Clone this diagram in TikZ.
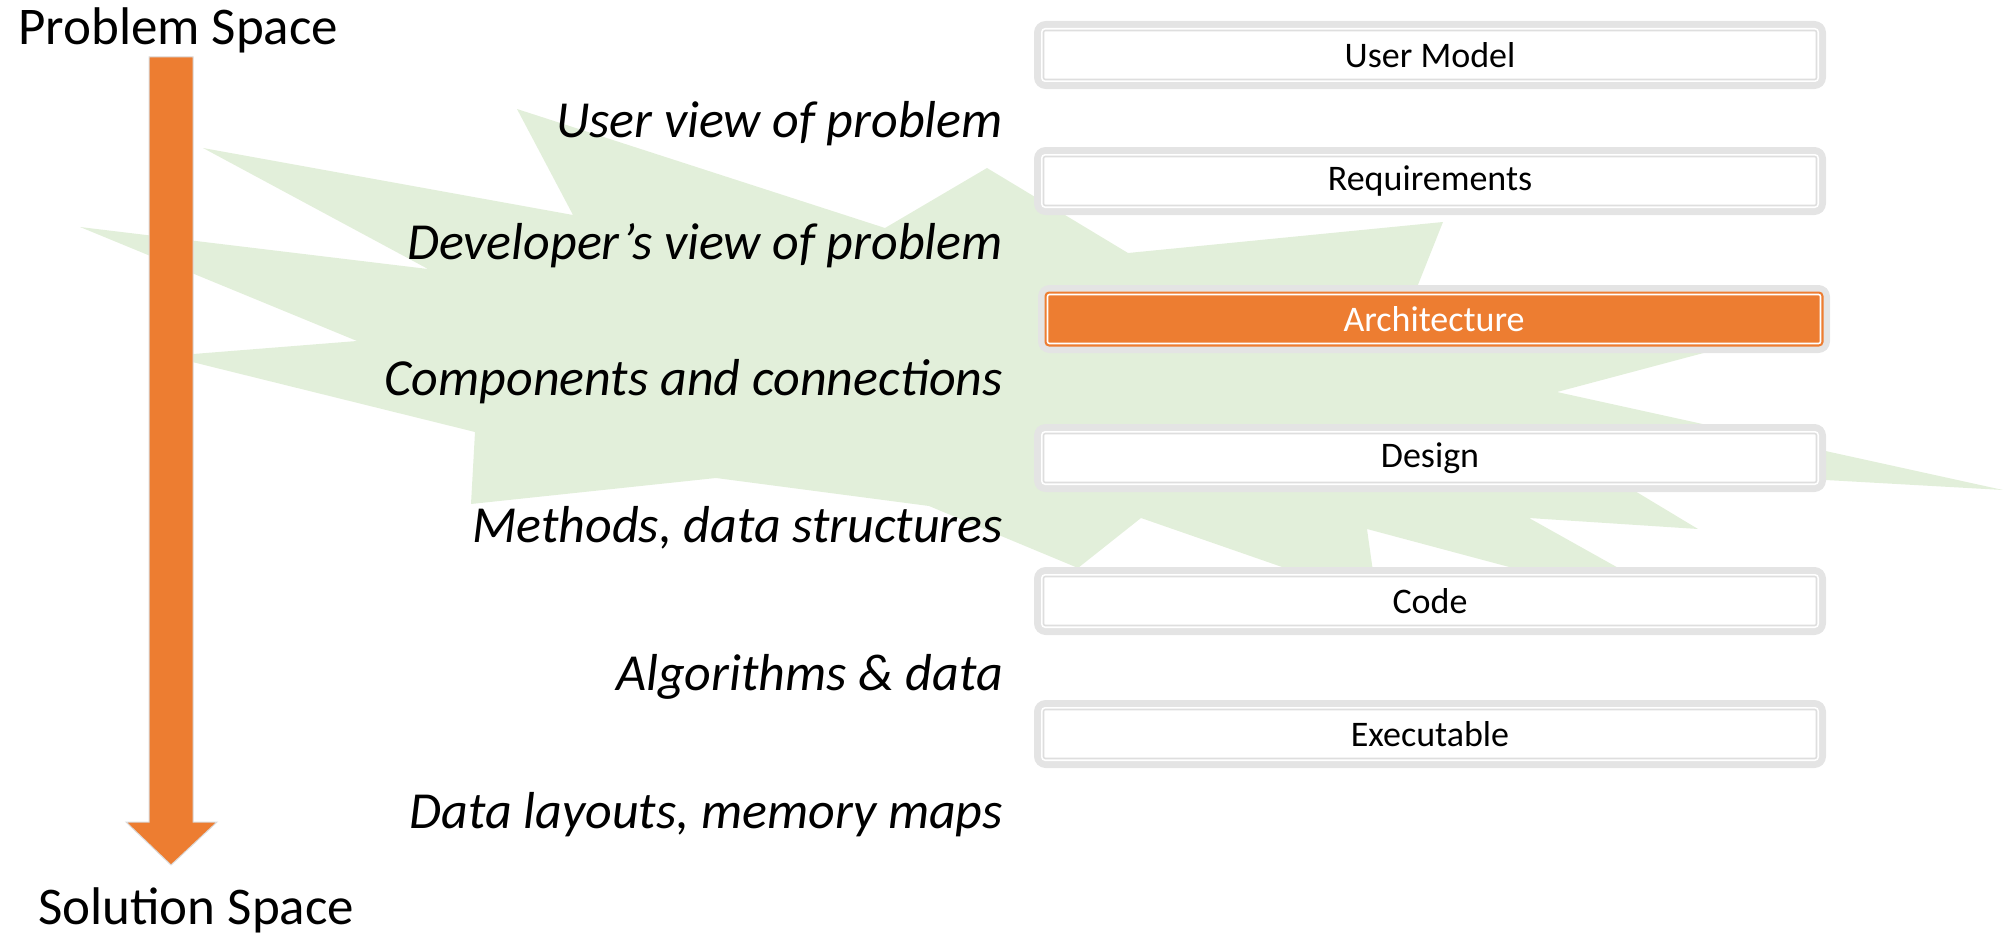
\documentclass[tikz,border=0pt]{standalone}
\usepackage{fontspec}
\setmainfont{Carlito}
\definecolor{accent}{HTML}{ED7D31}
\definecolor{burstgreen}{HTML}{E2EFDA}
\definecolor{bandgray}{HTML}{E4E4E4}
\definecolor{rulegray}{HTML}{DEDEDE}
\definecolor{arrowedge}{HTML}{DADADA}
\tikzset{
  layer/.style={
    rectangle, rounded corners=2pt, inner sep=0pt,
    minimum width=773pt, minimum height=49pt,
    fill=white, draw=rulegray, line width=1.6pt,
    preaction={draw=bandgray, line width=19pt, line join=round},
    preaction={draw=white, line width=5pt},
    font=\fontsize{36}{40}\selectfont, text=black},
  hotlayer/.style={layer,
    fill=accent, draw=white,
    preaction={draw=accent, line width=6pt},
    text=white},
  view/.style={anchor=base east, inner sep=0pt,
    font=\fontsize{52}{60}\selectfont\itshape},
  pole/.style={anchor=base west, inner sep=0pt,
    font=\fontsize{53}{60}\selectfont},
}
\begin{document}
\begin{tikzpicture}[x=1pt,y=-1pt]
\useasboundingbox (0,0) rectangle (2003,934);

% explosion shape behind everything
\fill[burstgreen]
  (517,109) -- (885,228) -- (987,168) -- (1128,253) -- (1443,222)
  -- (1404,320) -- (1790,330) -- (1557,392) -- (2003,490) -- (1595,467)
  -- (1698,529) -- (1529,518) -- (1715,622) -- (1367,529) -- (1377,600)
  -- (1141,518) -- (1078,568) -- (929,506) -- (716,478) -- (471,504)
  -- (475,432) -- (168,356) -- (357,341) -- (80,227) -- (428,269)
  -- (203,148) -- (573,215) -- cycle;

% problem-to-solution arrow
\filldraw[fill=accent, draw=arrowedge, line width=1pt, line join=miter]
  (149,57) -- (193,57) -- (193,822) -- (217,822) -- (171,865)
  -- (126,822) -- (149,822) -- cycle;

\node[pole] (problem) at (18,45) {Problem Space};
\node[pole] (solution) at (38,924) {Solution Space};

% abstraction layers
\node[layer]    (usermodel) at (1430,55)  {User Model};
\node[layer]    (reqs)      at (1430,181) {Requirements};
\node[hotlayer] (arch)      at (1434,319) {Architecture};
\node[layer]    (design)    at (1430,458) {Design};
\node[layer]    (code)      at (1430,601) {Code};
\node[layer]    (exe)       at (1430,734) {Executable};

% views between the layers
\node[view] (v1) at (1003,137) {User view of problem};
\node[view] (v2) at (1003,259) {Developer’s view of problem};
\node[view] (v3) at (1003,395) {Components and connections};
\node[view] (v4) at (1003,542) {Methods, data structures};
\node[view] (v5) at (1003,690) {Algorithms \& data};
\node[view] (v6) at (1003,828) {Data layouts, memory maps};
\end{tikzpicture}
\end{document}
